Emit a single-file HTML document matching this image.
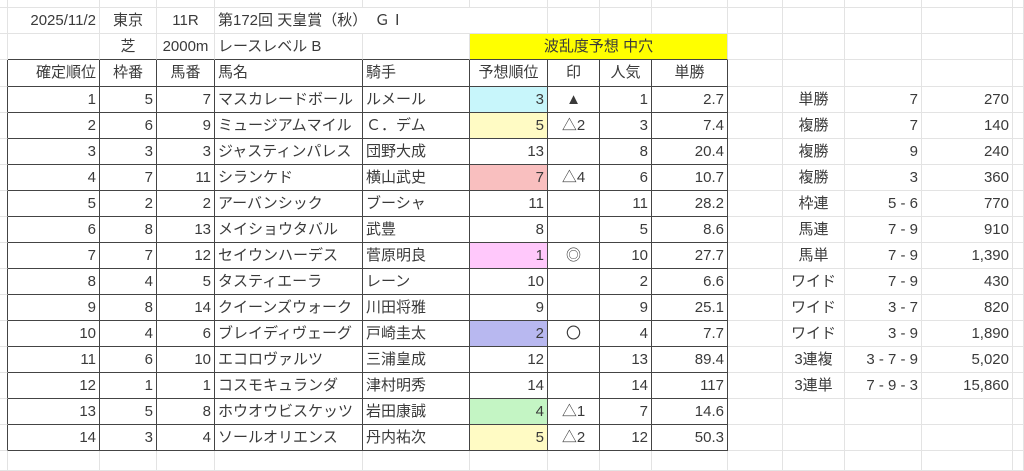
<!DOCTYPE html>
<html><head><meta charset="utf-8"><style>
html,body{margin:0;padding:0;background:#fff;width:1024px;height:458px;overflow:hidden}
table{position:absolute;left:0;top:0;border-collapse:separate;border-spacing:0;table-layout:fixed;width:1024px;
font-family:"Liberation Sans","Noto Sans CJK JP",sans-serif;font-size:15px;color:#3a3a3a}
td{border-right:1px solid #e3e3e3;border-bottom:1px solid #e3e3e3;padding:0 3px;white-space:nowrap;overflow:hidden;box-sizing:border-box;line-height:18px}
td.r{text-align:right}td.c{text-align:center}td.l{text-align:left}
tr.h td.d, tr.b td.d{border-right:1px solid #444;border-bottom:1px solid #444}
td.e{border-right:1px solid #444!important}
td.db{border-bottom:1px solid #444!important}
td.yb{border-bottom:1px solid #444!important;background:#ffff00}
.cy{background:#c8f6fb}.ly{background:#fffbc4}.pk{background:#f9bfbf}.mg{background:#ffc8fb}.lv{background:#b8b8f0}.gr{background:#c4f5c4}
</style></head><body>
<table>
<colgroup><col style="width:8px"><col style="width:92px"><col style="width:57px"><col style="width:58px"><col style="width:148px"><col style="width:107px"><col style="width:78px"><col style="width:52px"><col style="width:52px"><col style="width:76px"><col style="width:55px"><col style="width:62px"><col style="width:77px"><col style="width:91px"><col style="width:11px"></colgroup>
<tr style="height:8px"><td></td><td></td><td></td><td></td><td></td><td></td><td></td><td></td><td></td><td></td><td></td><td></td><td></td><td></td><td></td></tr>
<tr style="height:26px"><td></td><td class="r">2025/11/2</td><td class="c">東京</td><td class="c">11R</td><td class="l" colspan="3" style="overflow:visible">第172回 天皇賞（秋）　ＧⅠ</td><td></td><td></td><td></td><td></td><td></td><td></td><td></td><td></td></tr>
<tr style="height:26px"><td></td><td class="db"></td><td class="c db">芝</td><td class="c db">2000m</td><td class="l db">レースレベル B</td><td class="db"></td><td class="c yb" colspan="4">波乱度予想 中穴</td><td></td><td></td><td></td><td></td><td></td></tr>
<tr class="h" style="height:27px"><td class="e"></td><td class="d r">確定順位</td><td class="d c">枠番</td><td class="d c">馬番</td><td class="d l">馬名</td><td class="d l">騎手</td><td class="d c">予想順位</td><td class="d c">印</td><td class="d c">人気</td><td class="d c">単勝</td><td></td><td></td><td></td><td></td><td></td></tr>
<tr class="b" style="height:26px"><td class="e"></td><td class="d r">1</td><td class="d r">5</td><td class="d r">7</td><td class="d l">マスカレードボール</td><td class="d l">ルメール</td><td class="d r cy">3</td><td class="d c">▲</td><td class="d r">1</td><td class="d r">2.7</td><td></td><td class="c">単勝</td><td class="r">7</td><td class="r">270</td><td></td></tr>
<tr class="b" style="height:26px"><td class="e"></td><td class="d r">2</td><td class="d r">6</td><td class="d r">9</td><td class="d l">ミュージアムマイル</td><td class="d l">Ｃ．デム</td><td class="d r ly">5</td><td class="d c">△2</td><td class="d r">3</td><td class="d r">7.4</td><td></td><td class="c">複勝</td><td class="r">7</td><td class="r">140</td><td></td></tr>
<tr class="b" style="height:26px"><td class="e"></td><td class="d r">3</td><td class="d r">3</td><td class="d r">3</td><td class="d l">ジャスティンパレス</td><td class="d l">団野大成</td><td class="d r">13</td><td class="d c"></td><td class="d r">8</td><td class="d r">20.4</td><td></td><td class="c">複勝</td><td class="r">9</td><td class="r">240</td><td></td></tr>
<tr class="b" style="height:26px"><td class="e"></td><td class="d r">4</td><td class="d r">7</td><td class="d r">11</td><td class="d l">シランケド</td><td class="d l">横山武史</td><td class="d r pk">7</td><td class="d c">△4</td><td class="d r">6</td><td class="d r">10.7</td><td></td><td class="c">複勝</td><td class="r">3</td><td class="r">360</td><td></td></tr>
<tr class="b" style="height:26px"><td class="e"></td><td class="d r">5</td><td class="d r">2</td><td class="d r">2</td><td class="d l">アーバンシック</td><td class="d l">ブーシャ</td><td class="d r">11</td><td class="d c"></td><td class="d r">11</td><td class="d r">28.2</td><td></td><td class="c">枠連</td><td class="r">5 - 6</td><td class="r">770</td><td></td></tr>
<tr class="b" style="height:26px"><td class="e"></td><td class="d r">6</td><td class="d r">8</td><td class="d r">13</td><td class="d l">メイショウタバル</td><td class="d l">武豊</td><td class="d r">8</td><td class="d c"></td><td class="d r">5</td><td class="d r">8.6</td><td></td><td class="c">馬連</td><td class="r">7 - 9</td><td class="r">910</td><td></td></tr>
<tr class="b" style="height:26px"><td class="e"></td><td class="d r">7</td><td class="d r">7</td><td class="d r">12</td><td class="d l">セイウンハーデス</td><td class="d l">菅原明良</td><td class="d r mg">1</td><td class="d c">◎</td><td class="d r">10</td><td class="d r">27.7</td><td></td><td class="c">馬単</td><td class="r">7 - 9</td><td class="r">1,390</td><td></td></tr>
<tr class="b" style="height:26px"><td class="e"></td><td class="d r">8</td><td class="d r">4</td><td class="d r">5</td><td class="d l">タスティエーラ</td><td class="d l">レーン</td><td class="d r">10</td><td class="d c"></td><td class="d r">2</td><td class="d r">6.6</td><td></td><td class="c">ワイド</td><td class="r">7 - 9</td><td class="r">430</td><td></td></tr>
<tr class="b" style="height:26px"><td class="e"></td><td class="d r">9</td><td class="d r">8</td><td class="d r">14</td><td class="d l">クイーンズウォーク</td><td class="d l">川田将雅</td><td class="d r">9</td><td class="d c"></td><td class="d r">9</td><td class="d r">25.1</td><td></td><td class="c">ワイド</td><td class="r">3 - 7</td><td class="r">820</td><td></td></tr>
<tr class="b" style="height:26px"><td class="e"></td><td class="d r">10</td><td class="d r">4</td><td class="d r">6</td><td class="d l">ブレイディヴェーグ</td><td class="d l">戸崎圭太</td><td class="d r lv">2</td><td class="d c">〇</td><td class="d r">4</td><td class="d r">7.7</td><td></td><td class="c">ワイド</td><td class="r">3 - 9</td><td class="r">1,890</td><td></td></tr>
<tr class="b" style="height:26px"><td class="e"></td><td class="d r">11</td><td class="d r">6</td><td class="d r">10</td><td class="d l">エコロヴァルツ</td><td class="d l">三浦皇成</td><td class="d r">12</td><td class="d c"></td><td class="d r">13</td><td class="d r">89.4</td><td></td><td class="c">3連複</td><td class="r">3 - 7 - 9</td><td class="r">5,020</td><td></td></tr>
<tr class="b" style="height:26px"><td class="e"></td><td class="d r">12</td><td class="d r">1</td><td class="d r">1</td><td class="d l">コスモキュランダ</td><td class="d l">津村明秀</td><td class="d r">14</td><td class="d c"></td><td class="d r">14</td><td class="d r">117</td><td></td><td class="c">3連単</td><td class="r">7 - 9 - 3</td><td class="r">15,860</td><td></td></tr>
<tr class="b" style="height:26px"><td class="e"></td><td class="d r">13</td><td class="d r">5</td><td class="d r">8</td><td class="d l">ホウオウビスケッツ</td><td class="d l">岩田康誠</td><td class="d r gr">4</td><td class="d c">△1</td><td class="d r">7</td><td class="d r">14.6</td><td></td><td></td><td></td><td></td><td></td></tr>
<tr class="b" style="height:26px"><td class="e"></td><td class="d r">14</td><td class="d r">3</td><td class="d r">4</td><td class="d l">ソールオリエンス</td><td class="d l">丹内祐次</td><td class="d r ly">5</td><td class="d c">△2</td><td class="d r">12</td><td class="d r">50.3</td><td></td><td></td><td></td><td></td><td></td></tr>
<tr style="height:20px"><td></td><td></td><td></td><td></td><td></td><td></td><td></td><td></td><td></td><td></td><td></td><td></td><td></td><td></td><td></td></tr>
</table>
</body></html>
